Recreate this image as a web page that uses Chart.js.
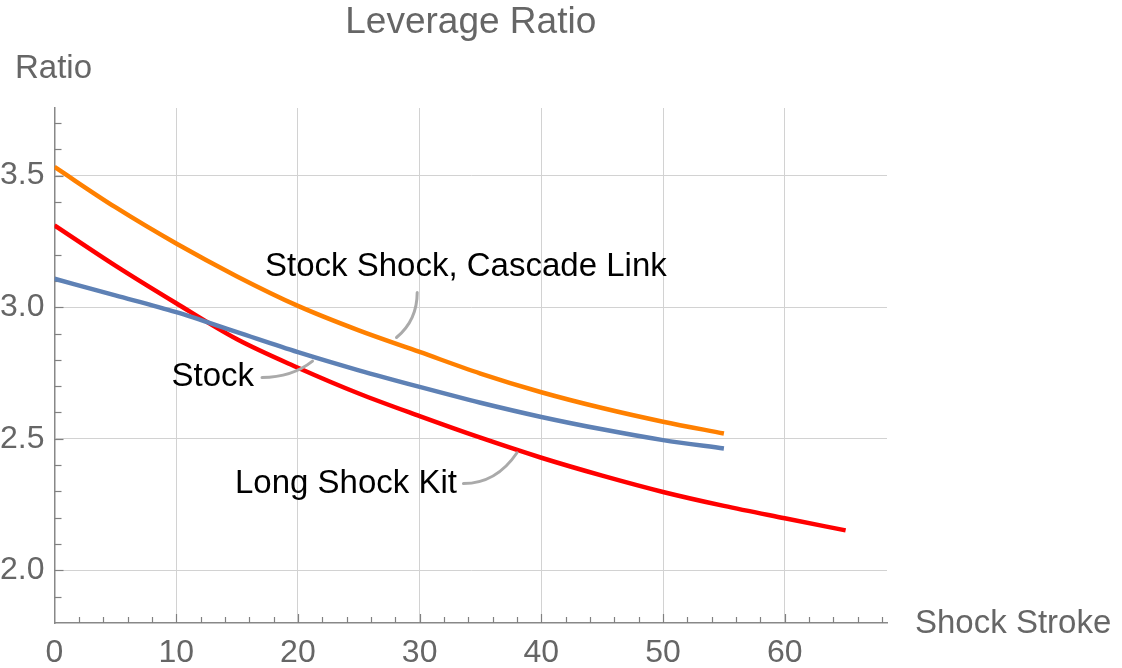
<!DOCTYPE html>
<html>
<head>
<meta charset="utf-8">
<script src="https://cdn.jsdelivr.net/npm/chart.js@4.4.1/dist/chart.umd.min.js"></script>
<style>
  html, body { margin: 0; padding: 0; background: #fff; }
  #wrap { width: 1122px; height: 668px; }
</style>
</head>
<body>
<div id="wrap"><canvas id="leverageChart"></canvas></div>
<script>
// shock stroke values (x) for each curve
const strokeShort = [0, 5, 10, 15, 20, 25, 30, 35, 40, 45, 50, 55];
const strokeLong = [0, 5, 10, 15, 20, 25, 30, 35, 40, 45, 50, 55, 60, 65];

// leverage ratio
const cascadeLink = [3.533, 3.38, 3.242, 3.117, 3.005, 2.912, 2.83, 2.748, 2.677, 2.617, 2.565, 2.520];
const stockRatio = [3.108, 3.045, 2.981, 2.905, 2.829, 2.76, 2.697, 2.637, 2.583, 2.536, 2.495, 2.463];
const longKit = [3.311, 3.158, 3.015, 2.878, 2.77, 2.672, 2.586, 2.504, 2.428, 2.36, 2.298, 2.245, 2.198, 2.152];

const yTickLabels = [2.0, 2.5, 3.0, 3.5];
const xTickLabels = [0, 10, 20, 30, 40, 50, 60];

// callout labels: text, label centre, leader start, bend, end (data units)
const callouts = [
    { text: "Stock Shock, Cascade Link", at: [33.8, 3.155], from: [29.8, 3.056], bend: [29.8, 2.95], to: [28.1, 2.885] },
    { text: "Stock", at: [13.0, 2.736], from: [17.05, 2.733], bend: [19.5, 2.733], to: [21.2, 2.795] },
    { text: "Long Shock Kit", at: [23.95, 2.33], from: [33.6, 2.33], bend: [36.3, 2.33], to: [38.0, 2.447] }
];

const FONT = '"Liberation Sans", Arial, sans-serif';
const GRAY = '#666666';

function toPoints(xs, ys) {
    return xs.map((x, i) => ({ x: x, y: ys[i] }));
}

// inward ticks, titles and callouts
const decorations = {
    id: 'decorations',
    beforeDatasetsDraw(chart) {
        const { ctx, chartArea, scales } = chart;
        const xs = scales.x, ys = scales.y;
        ctx.save();
        ctx.strokeStyle = '#808080';
        ctx.lineWidth = 1.2;
        for (let v = 2; v <= 68; v += 2) {
            const px = Math.round(xs.getPixelForValue(v)) + 0.5;
            const len = v % 10 === 0 ? 9 : 6;
            ctx.beginPath();
            ctx.moveTo(px, chartArea.bottom);
            ctx.lineTo(px, chartArea.bottom - len);
            ctx.stroke();
        }
        for (let i = 19; i <= 37; i++) {
            const v = i / 10;
            const py = Math.round(ys.getPixelForValue(v)) + 0.5;
            const len = i % 5 === 0 ? 9 : 7;
            ctx.beginPath();
            ctx.moveTo(chartArea.left, py);
            ctx.lineTo(chartArea.left + len, py);
            ctx.stroke();
        }
        ctx.restore();
    },
    afterDraw(chart) {
        const { ctx, chartArea, scales } = chart;
        const xs = scales.x, ys = scales.y;
        const P = (p) => [xs.getPixelForValue(p[0]), ys.getPixelForValue(p[1])];
        ctx.save();
        // title
        ctx.fillStyle = GRAY;
        ctx.textBaseline = 'middle';
        ctx.textAlign = 'center';
        ctx.font = '37px ' + FONT;
        ctx.fillText('Leverage Ratio', (chartArea.left + chartArea.right) / 2, 23);
        // axis labels
        ctx.font = '33px ' + FONT;
        ctx.textAlign = 'left';
        ctx.fillText('Ratio', 15, 69);
        ctx.fillText('Shock Stroke', 915, chartArea.bottom + 1);
        // callouts
        callouts.forEach(c => {
            const a = P(c.from), b = P(c.bend), e = P(c.to);
            ctx.strokeStyle = '#aaaaaa';
            ctx.lineWidth = 3;
            ctx.lineCap = 'round';
            ctx.beginPath();
            ctx.moveTo(a[0], a[1]);
            ctx.quadraticCurveTo(b[0], b[1], e[0], e[1]);
            ctx.stroke();
            const t = P(c.at);
            ctx.fillStyle = '#000';
            ctx.font = '33px ' + FONT;
            ctx.textAlign = 'center';
            ctx.fillText(c.text, t[0], t[1]);
        });
        ctx.restore();
    }
};

const ctx = document.getElementById('leverageChart').getContext('2d');
new Chart(ctx, {
    type: 'line',
    data: {
        datasets: [
            { label: 'Stock Shock, Cascade Link', data: toPoints(strokeShort, cascadeLink), borderColor: '#ff8000' },
            { label: 'Stock', data: toPoints(strokeShort, stockRatio), borderColor: '#5e81b5' },
            { label: 'Long Shock Kit', data: toPoints(strokeLong, longKit), borderColor: '#ff0000' }
        ].map(d => Object.assign(d, { borderWidth: 4.5, pointRadius: 0, cubicInterpolationMode: 'monotone', fill: false }))
    },
    options: {
        responsive: true,
        maintainAspectRatio: false,
        animation: false,
        layout: { padding: { top: 108, right: 235, left: 0, bottom: 0 } },
        plugins: { legend: { display: false }, tooltip: { enabled: false } },
        scales: {
            x: {
                type: 'linear',
                min: 0,
                max: 68.4,
                afterBuildTicks: s => { s.ticks = xTickLabels.map(v => ({ value: v })); },
                afterFit: s => { s.height = 45; },
                ticks: { font: { size: 32, family: FONT }, color: GRAY, padding: 11, maxRotation: 0, callback: v => String(v) },
                grid: { color: c => (c.tick && c.tick.value === 0) ? 'rgba(0,0,0,0)' : '#d2d2d2', lineWidth: 1, drawTicks: false },
                border: { color: '#888888', width: 1.5 }
            },
            y: {
                type: 'linear',
                min: 1.8,
                max: 3.757,
                afterBuildTicks: s => { s.ticks = yTickLabels.map(v => ({ value: v })); },
                afterFit: s => { s.width = 54.5; },
                ticks: { font: { size: 32, family: FONT }, color: GRAY, padding: 10, callback: v => Number(v).toFixed(1) },
                grid: { color: '#d2d2d2', lineWidth: 1, drawTicks: false },
                border: { color: '#888888', width: 1.5 }
            }
        }
    },
    plugins: [decorations]
});
</script>
</body>
</html>
